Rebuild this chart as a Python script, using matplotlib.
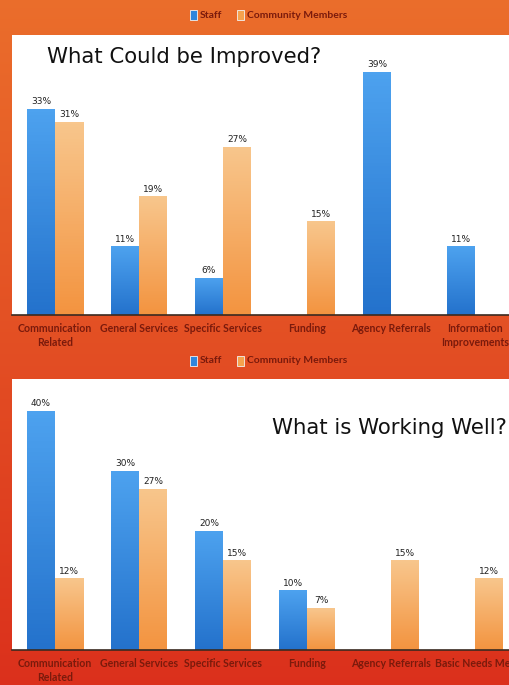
import numpy as np
import matplotlib.pyplot as plt
from matplotlib.patches import Rectangle
from matplotlib.colors import LinearSegmentedColormap

# survey results, percent of respondents
top_title = 'What Could be Improved?'
top_categories = ['Communication\nRelated', 'General Services', 'Specific Services',
                  'Funding', 'Agency Referrals', 'Information\nImprovements']
top_staff = [33, 11, 6, np.nan, 39, 11]
top_community = [31, 19, 27, 15, np.nan, np.nan]

bottom_title = 'What is Working Well?'
bottom_categories = ['Communication\nRelated', 'General Services', 'Specific Services',
                     'Funding', 'Agency Referrals', 'Basic Needs Met']
bottom_staff = [40, 30, 20, 10, np.nan, np.nan]
bottom_community = [12, 27, 15, 7, 15, 12]

series_names = ['Staff', 'Community Members']

W, H = 510, 685
BLUE = '#2f86dc'
ORANGE = '#f5a24e'
LABEL_RED = '#7a1a0c'
blue_cmap = LinearSegmentedColormap.from_list('b', ['#2472cc', '#4da2ef'])
orange_cmap = LinearSegmentedColormap.from_list('o', ['#f39440', '#f8c68c'])

fig = plt.figure(figsize=(W / 100, H / 100), dpi=100)

# orange-to-red backdrop
bg = fig.add_axes([0, 0, 1, 1], zorder=-10)
grad = np.linspace(0, 1, 256)[:, None]
top_rgb = np.array([0.92, 0.43, 0.17])
bot_rgb = np.array([0.86, 0.19, 0.11])
img = top_rgb[None, None, :] * (1 - grad[..., None]) + bot_rgb[None, None, :] * grad[..., None]
bg.imshow(img, aspect='auto', extent=[0, 1, 0, 1])
bg.axis('off')


def px_box(x0, y0, x1, y1):
    return [x0 / W, 1 - y1 / H, (x1 - x0) / W, (y1 - y0) / H]


def legend(y):
    for x, name, color in [(190, series_names[0], BLUE), (237, series_names[1], ORANGE)]:
        fig.patches.append(Rectangle((x / W, 1 - (y + 5) / H), 7 / W, 10 / H,
                                     transform=fig.transFigure, facecolor=color,
                                     edgecolor='#f2f2f2', linewidth=0.6))
        fig.text((x + 10) / W, 1 - y / H, name, fontsize=7.5, fontweight='bold',
                 color=LABEL_RED, va='center', ha='left', family='Lato')


def shade(ax, bars, cmap):
    # vertical gradient fill, clipped to each bar
    g = np.linspace(0, 1, 64)[:, None]
    for b in bars:
        if np.isnan(b.get_height()):
            continue
        x0, w, h = b.get_x(), b.get_width(), b.get_height()
        im = ax.imshow(g, cmap=cmap, aspect='auto', origin='lower',
                       extent=[x0, x0 + w, 0, h], zorder=b.get_zorder() + 0.1)
        im.set_clip_path(b)


def panel(box, ymax, cats, staff, comm, title, title_xy, label_y):
    ax = fig.add_axes(px_box(*box))
    ax.set_facecolor('white')
    x = np.arange(len(cats))
    w = 1 / 3
    b1 = ax.bar(x - w / 2, staff, width=w, color=BLUE, linewidth=0)
    b2 = ax.bar(x + w / 2, comm, width=w, color=ORANGE, linewidth=0)
    for xs, vals in [(x - w / 2, staff), (x + w / 2, comm)]:
        for xi, v in zip(xs, vals):
            if not np.isnan(v):
                ax.annotate(f'{v:.0f}%', (xi, v), xytext=(0, 2), textcoords='offset points',
                            ha='center', va='bottom', fontsize=6.5, color='#222222')
    xlim = (-43 / 84, -43 / 84 + (box[2] - box[0]) / 84)
    shade(ax, b1, blue_cmap)
    shade(ax, b2, orange_cmap)
    ax.set_xlim(*xlim)
    ax.set_ylim(0, ymax)
    ax.set_xticks([])
    ax.set_yticks([])
    for s in ['top', 'left', 'right']:
        ax.spines[s].set_visible(False)
    ax.spines['bottom'].set_color('#3a2a20')
    ax.spines['bottom'].set_linewidth(1.2)
    ax.text(title_xy[0], title_xy[1], title, transform=ax.transAxes,
            fontsize=15.3, color='#111111', ha='left', va='center')
    for xi, c in zip(x, cats):
        cx = (box[0] + (xi + 43 / 84) * 84) / W
        fig.text(cx, 1 - label_y / H, c, fontsize=7.6, fontweight='bold', color=LABEL_RED,
                 ha='center', va='top', family='Lato', linespacing=1.3)
    return ax


legend(15)
panel((12, 35, 510, 315), 280 / 6.24, top_categories, top_staff, top_community,
      top_title, ((47 - 12) / 498, 1 - (57 - 35) / 280), 323)
legend(361)
panel((12, 379, 510, 650), 271 / 5.97, bottom_categories, bottom_staff, bottom_community,
      bottom_title, ((272 - 12) / 498, 1 - (428 - 379) / 271), 658)

fig.savefig('out.png', dpi=100)
